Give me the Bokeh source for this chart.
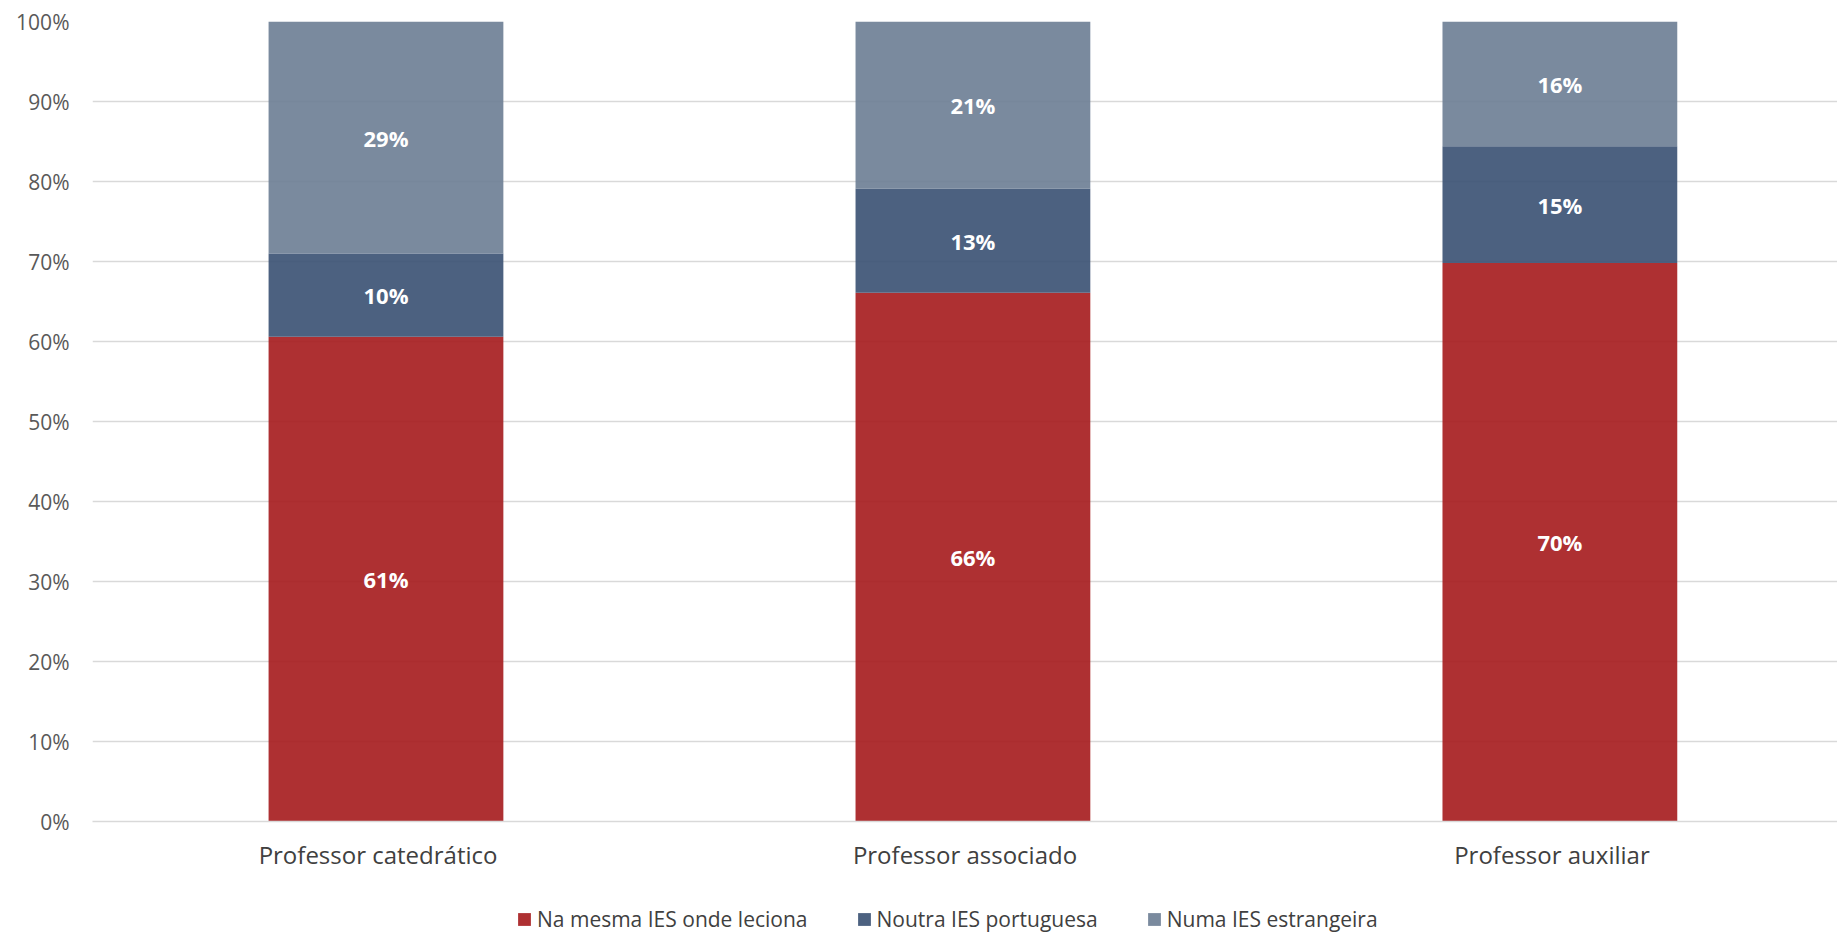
from bokeh.plotting import figure
from bokeh.models import ColumnDataSource, FactorRange, FixedTicker, PrintfTickFormatter, Legend, LegendItem, LabelSet, Range1d
from bokeh.layouts import column
from bokeh.transform import dodge
from bokeh.core.properties import value
from bokeh.embed import file_html
from bokeh.resources import INLINE

categories = ["Professor catedrático", "Professor associado", "Professor auxiliar"]
series_names = ["Na mesma IES onde leciona", "Noutra IES portuguesa", "Numa IES estrangeira"]
mesma_ies = [60.6, 66.1, 69.8]
outra_pt = [10.4, 13.0, 14.6]
estrangeira = [29.0, 20.9, 15.6]
y_ticks = [0, 10, 20, 30, 40, 50, 60, 70, 80, 90, 100]

colors = ["#A51A1C", "#395072", "#6B7D94"]
FONT = "Open Sans"
PAD = 0.009
SHIFT = PAD * len(categories) / 2

keys = ["mesma", "outra", "estr"]
data = dict(cat=categories, mesma=mesma_ies, outra=outra_pt, estr=estrangeira)
b0 = [0] * 3
b1 = mesma_ies
b2 = [a + b for a, b in zip(mesma_ies, outra_pt)]
for k, vals, base in zip(keys, [mesma_ies, outra_pt, estrangeira], [b0, b1, b2]):
    data[k + "_mid"] = [bb + v / 2 for bb, v in zip(base, vals)]
    data[k + "_lbl"] = ["%d%%" % round(v) for v in vals]
src = ColumnDataSource(data)

xr = FactorRange(factors=categories, range_padding=-PAD, range_padding_units="percent")
p = figure(x_range=xr, y_range=(0, 100), width=1837, height=873,
           output_backend="svg", toolbar_location=None,
           min_border_left=92, min_border_right=0, min_border_top=21, min_border_bottom=49)
p.outline_line_color = None
p.background_fill_color = "white"

xcat = dodge("cat", SHIFT, range=xr)
renderers = p.vbar_stack(keys, x=xcat, width=0.4, source=src, color=colors,
                         fill_alpha=0.9, line_color=None)

for k in keys:
    p.add_layout(LabelSet(x=xcat, y=k + "_mid", text=k + "_lbl", source=src,
                          text_align="center", text_baseline="middle",
                          text_color="white", text_font=value(FONT), text_font_size="22px",
                          text_font_style="bold"))

p.yaxis.ticker = FixedTicker(ticks=y_ticks)
p.yaxis.formatter = PrintfTickFormatter(format="%d%%")
p.yaxis.axis_line_color = None
p.yaxis.major_tick_line_color = None
p.yaxis.minor_tick_line_color = None
p.yaxis.major_label_text_font = FONT
p.yaxis.major_label_text_font_size = "21px"
p.yaxis.major_label_text_color = "#595959"
p.yaxis.major_label_standoff = 17

p.ygrid.grid_line_color = "#D9D9D9"
p.ygrid.grid_line_width = 1.5
p.xgrid.grid_line_color = None

p.xaxis.axis_line_color = "#D9D9D9"
p.xaxis.axis_line_width = 1.5
p.xaxis.major_tick_line_color = None
p.xaxis.minor_tick_line_color = None
p.xaxis.major_label_text_font = FONT
p.xaxis.major_label_text_font_size = "24px"
p.xaxis.major_label_text_color = "#404040"
p.xaxis.major_label_standoff = 10

# legend strip below the chart: hidden copies of the stacked series supply the swatches
pl = figure(width=1837, height=60, output_backend="svg", toolbar_location=None,
            min_border=0, x_range=xr, y_range=Range1d(-100000, -99999))
pl.axis.visible = False
pl.grid.visible = False
pl.outline_line_color = None
proxies = pl.vbar_stack(keys, x=xcat, width=0.4, source=src, color=colors,
                        fill_alpha=0.9, line_color=None)
for r in proxies:
    r.visible = False
items = [LegendItem(label=n, renderers=[r]) for n, r in zip(series_names, proxies)]
legend = Legend(items=items, orientation="horizontal", location=(424, 0),
                label_text_font=FONT, label_text_font_size="21px", label_text_color="#404040",
                glyph_width=16, glyph_height=16, label_height=24, label_standoff=5, spacing=48,
                background_fill_alpha=0, border_line_color=None, padding=0, margin=0)
pl.add_layout(legend, "center")

layout = column(p, pl, spacing=0)
open("out.html", "w").write(file_html(layout, INLINE))
